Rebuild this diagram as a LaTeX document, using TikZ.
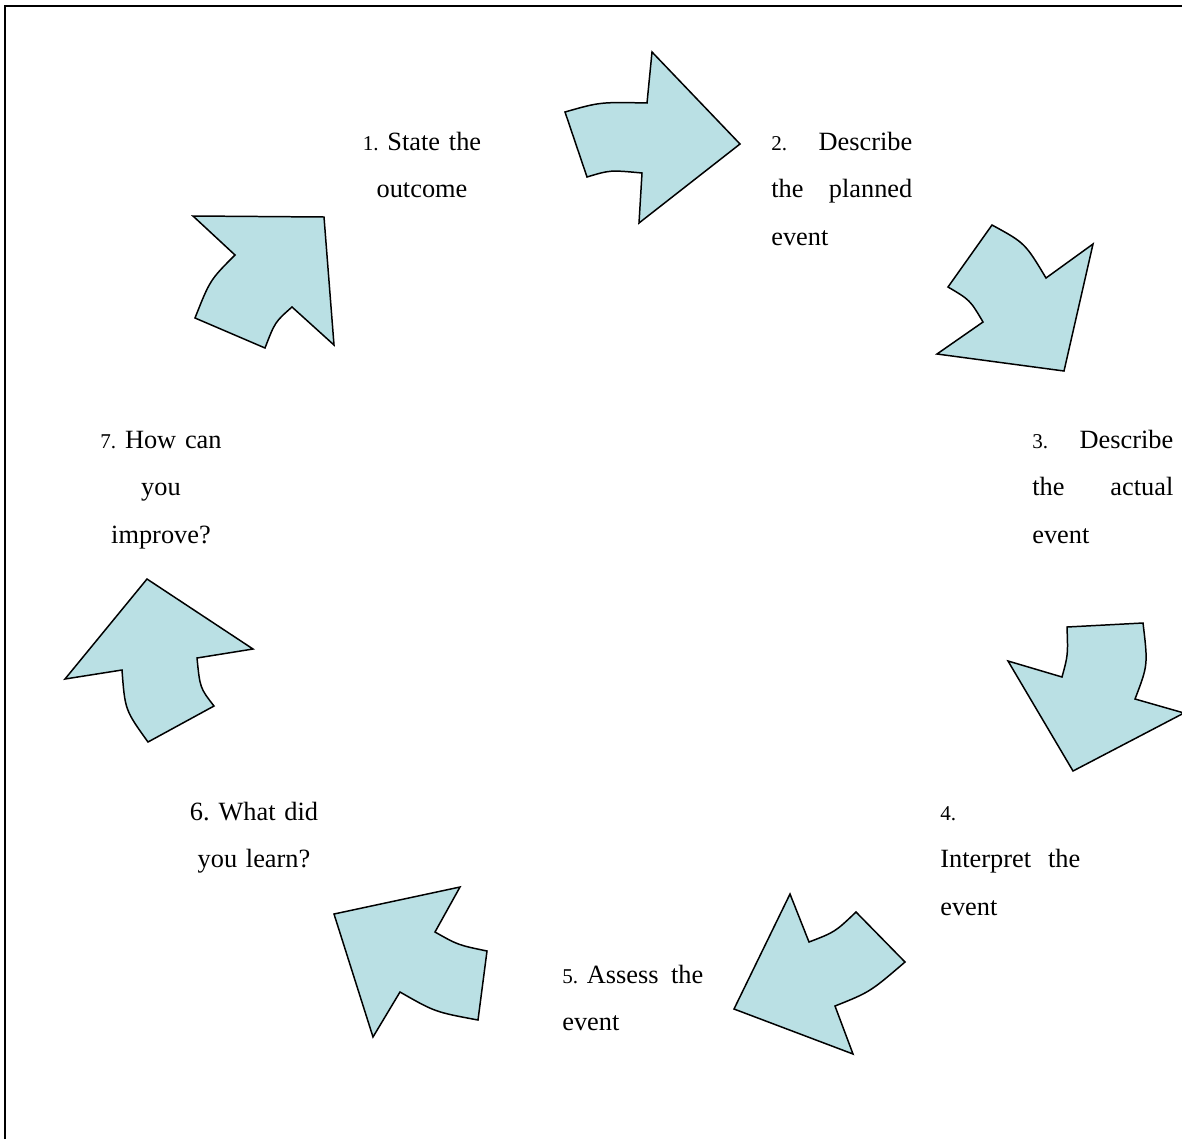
\documentclass[tikz,border=0pt]{standalone}
\usepackage{fontspec}
\setmainfont{Liberation Serif}
\definecolor{arrowfill}{RGB}{186,224,228}
\newcommand{\stepnum}[1]{{\fontsize{12}{27.2}\selectfont #1}}
\tikzset{
  cyclearrow/.style={draw=black, line width=0.85pt, fill=arrowfill, line join=miter},
  steptext/.style={inner sep=0pt, font=\fontsize{15}{27.2}\selectfont\frenchspacing},
}

\begin{document}
\begin{tikzpicture}[x=0.02cm,y=-0.02cm]
        \useasboundingbox (0,0) rectangle (1182,1139);
        \draw[line width=1.2pt] (5,1139) -- (5,6) -- (1182,6);

        \draw[cyclearrow] (565,112) .. controls (600,102) .. (647,103) -- (652,52) -- (740,144) -- (639,223) -- (642,173) .. controls (610,170) .. (587,177) -- cycle;
        \draw[cyclearrow] (992,225) .. controls (1025,243) .. (1046,278) -- (1093,244) -- (1064,371) -- (937,354) -- (983,322) .. controls (970,300) .. (948,287) -- cycle;
        \draw[cyclearrow] (1067,627) -- (1143,623) .. controls (1148,665) .. (1135,699) -- (1184,713) -- (1073,771) -- (1008,661) -- (1062,677) .. controls (1068,655) .. (1067,627) -- cycle;
        \draw[cyclearrow] (856,912) -- (905,962) .. controls (870,992) .. (835,1006) -- (853,1054) -- (734,1009) -- (790,894) -- (809,942) .. controls (835,932) .. (856,912) -- cycle;
        \draw[cyclearrow] (460,887) -- (435,932) .. controls (458,945) .. (487,951) -- (478,1020) .. controls (435,1012) .. (400,992) -- (373,1037) -- (334,914) -- cycle;
        \draw[cyclearrow] (147,579) -- (253,649) -- (197,658) .. controls (200,688) .. (214,706) -- (148,742) .. controls (125,710) .. (122,670) -- (65,679) -- cycle;
        \draw[cyclearrow] (193,216) -- (324,217) -- (334,345) -- (292,307) .. controls (275,322) .. (265,348) -- (195,318) .. controls (210,280) .. (235,255) -- cycle;

        \node[steptext, text width=3.4cm, align=center, anchor=base] (s1) at (422,150) {\stepnum{1. }State the\\ outcome};
        \node[steptext, text width=2.82cm, align=left, anchor=base west] (s2) at (771,150) {\stepnum{2.}\hfill Describe\\ the\hfill planned\\ event};
        \node[steptext, text width=2.82cm, align=left, anchor=base west] (s3) at (1032,448) {\stepnum{3.}\hfill Describe\\ the\hfill actual\\ event};
        \node[steptext, text width=2.8cm, align=left, anchor=base west] (s4) at (940,820) {\stepnum{4.}\\ Interpret\hfill the\\ event};
        \node[steptext, text width=2.82cm, align=left, anchor=base west] (s5) at (562,983) {\stepnum{5. }Assess\hfill the\\ event};
        \node[steptext, text width=3.4cm, align=center, anchor=base] (s6) at (254,820) {6. What did\\ you learn?};
        \node[steptext, text width=3.4cm, align=center, anchor=base] (s7) at (161,448) {\stepnum{7. }How can\\ you\\ improve?};
    \end{tikzpicture}
\end{document}
